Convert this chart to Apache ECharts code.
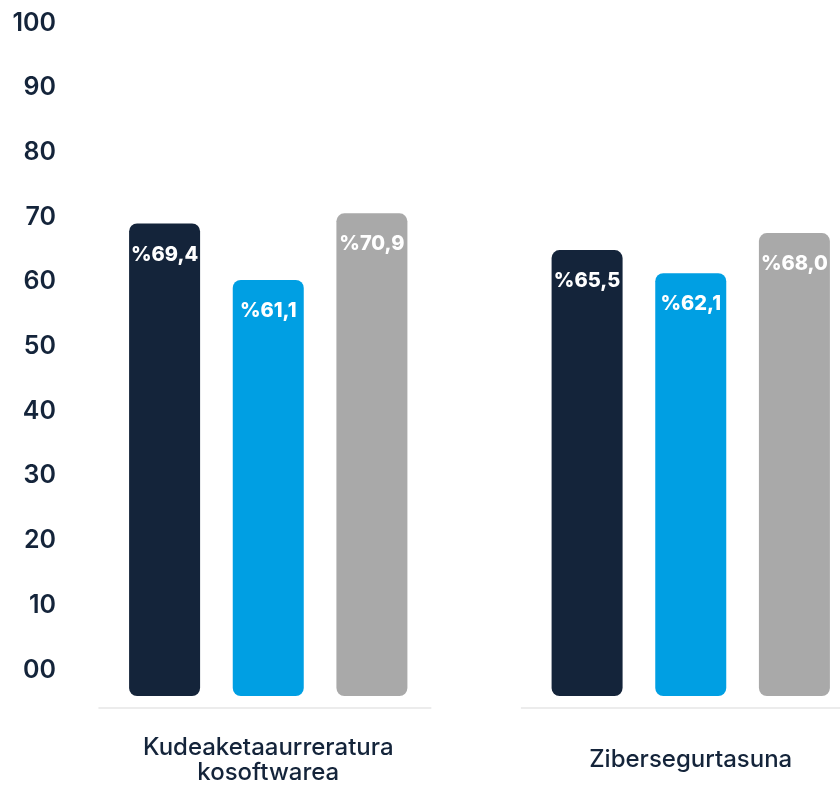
<!DOCTYPE html>
<html>
<head>
<meta charset="utf-8">
<script src="https://cdn.jsdelivr.net/npm/echarts@6/dist/echarts.min.js"></script>
<style>
  html, body { margin: 0; padding: 0; background: #fff; }
  #chart { width: 840px; height: 787px; }
</style>
</head>
<body>
<div id="chart"></div>
<script>
var categories = ['Kudeaketaaurreratura\nkosoftwarea', 'Zibersegurtasuna'];
var darkValues = [69.4, 65.5];
var blueValues = [61.1, 62.1];
var grayValues = [70.9, 68.0];
var tickValues = [0, 10, 20, 30, 40, 50, 60, 70, 80, 90, 100];

var ink = '#14243a';
var font = 'Inter';

var myChart = echarts.init(document.getElementById('chart'));

function pct(p) {
    return '%' + p.value.toFixed(1).replace('.', ',');
}

function barSeries(name, values, color) {
    return {
        name: name,
        type: 'bar',
        xAxisIndex: 1,
        yAxisIndex: 1,
        data: values,
        barWidth: 71,
        barGap: '46%',
        itemStyle: { color: color, borderRadius: 8 },
        label: {
            show: true,
            position: 'insideTop',
            distance: 21,
            formatter: pct,
            color: '#fff',
            fontFamily: font,
            fontWeight: 800,
            fontSize: 20
        },
        silent: true
    };
}

var option = {
    backgroundColor: '#fff',
    animation: false,
    grid: [
        { left: 64, top: 23, height: 647, width: 10, outerBoundsMode: 'none' },
        { left: 57, top: 22, height: 674, width: 845, outerBoundsMode: 'none' }
    ],
    xAxis: [
        { gridIndex: 0, type: 'category', data: [''], show: false },
        {
            gridIndex: 1,
            type: 'category',
            data: categories,
            axisLine: { show: false },
            axisTick: { show: false },
            axisLabel: {
                interval: 0,
                margin: 64,
                verticalAlign: 'middle',
                color: ink,
                fontFamily: font,
                fontWeight: 500,
                fontSize: 24,
                lineHeight: 25
            }
        }
    ],
    yAxis: [
        {
            gridIndex: 0,
            type: 'value',
            min: 0,
            max: 100,
            interval: 10,
            axisLine: { show: false },
            axisTick: { show: false },
            splitLine: { show: false },
            axisLabel: {
                margin: 8,
                color: ink,
                fontFamily: font,
                fontWeight: 600,
                fontSize: 25,
                formatter: function (v) {
                    return v === tickValues[0] ? '00' : String(v);
                }
            }
        },
        { gridIndex: 1, type: 'value', min: 0, max: 99, show: false }
    ],
    series: [
        barSeries('a', darkValues, '#14243a'),
        barSeries('b', blueValues, '#009fe3'),
        barSeries('c', grayValues, '#a9a9a9'),
        {
            type: 'custom',
            xAxisIndex: 1,
            yAxisIndex: 1,
            silent: true,
            data: categories.map(function (c, i) { return [i, 0]; }),
            encode: { x: 0, y: 1 },
            renderItem: function (params, api) {
                var p = api.coord([api.value(0), api.value(1)]);
                var band = api.size([1, 0])[0];
                return {
                    type: 'line',
                    shape: { x1: p[0] - 0.402 * band, y1: p[1] + 12, x2: p[0] + 0.386 * band, y2: p[1] + 12 },
                    style: { stroke: '#e6e6e6', lineWidth: 1.5 }
                };
            }
        }
    ]
};

myChart.setOption(option);
</script>
</body>
</html>
